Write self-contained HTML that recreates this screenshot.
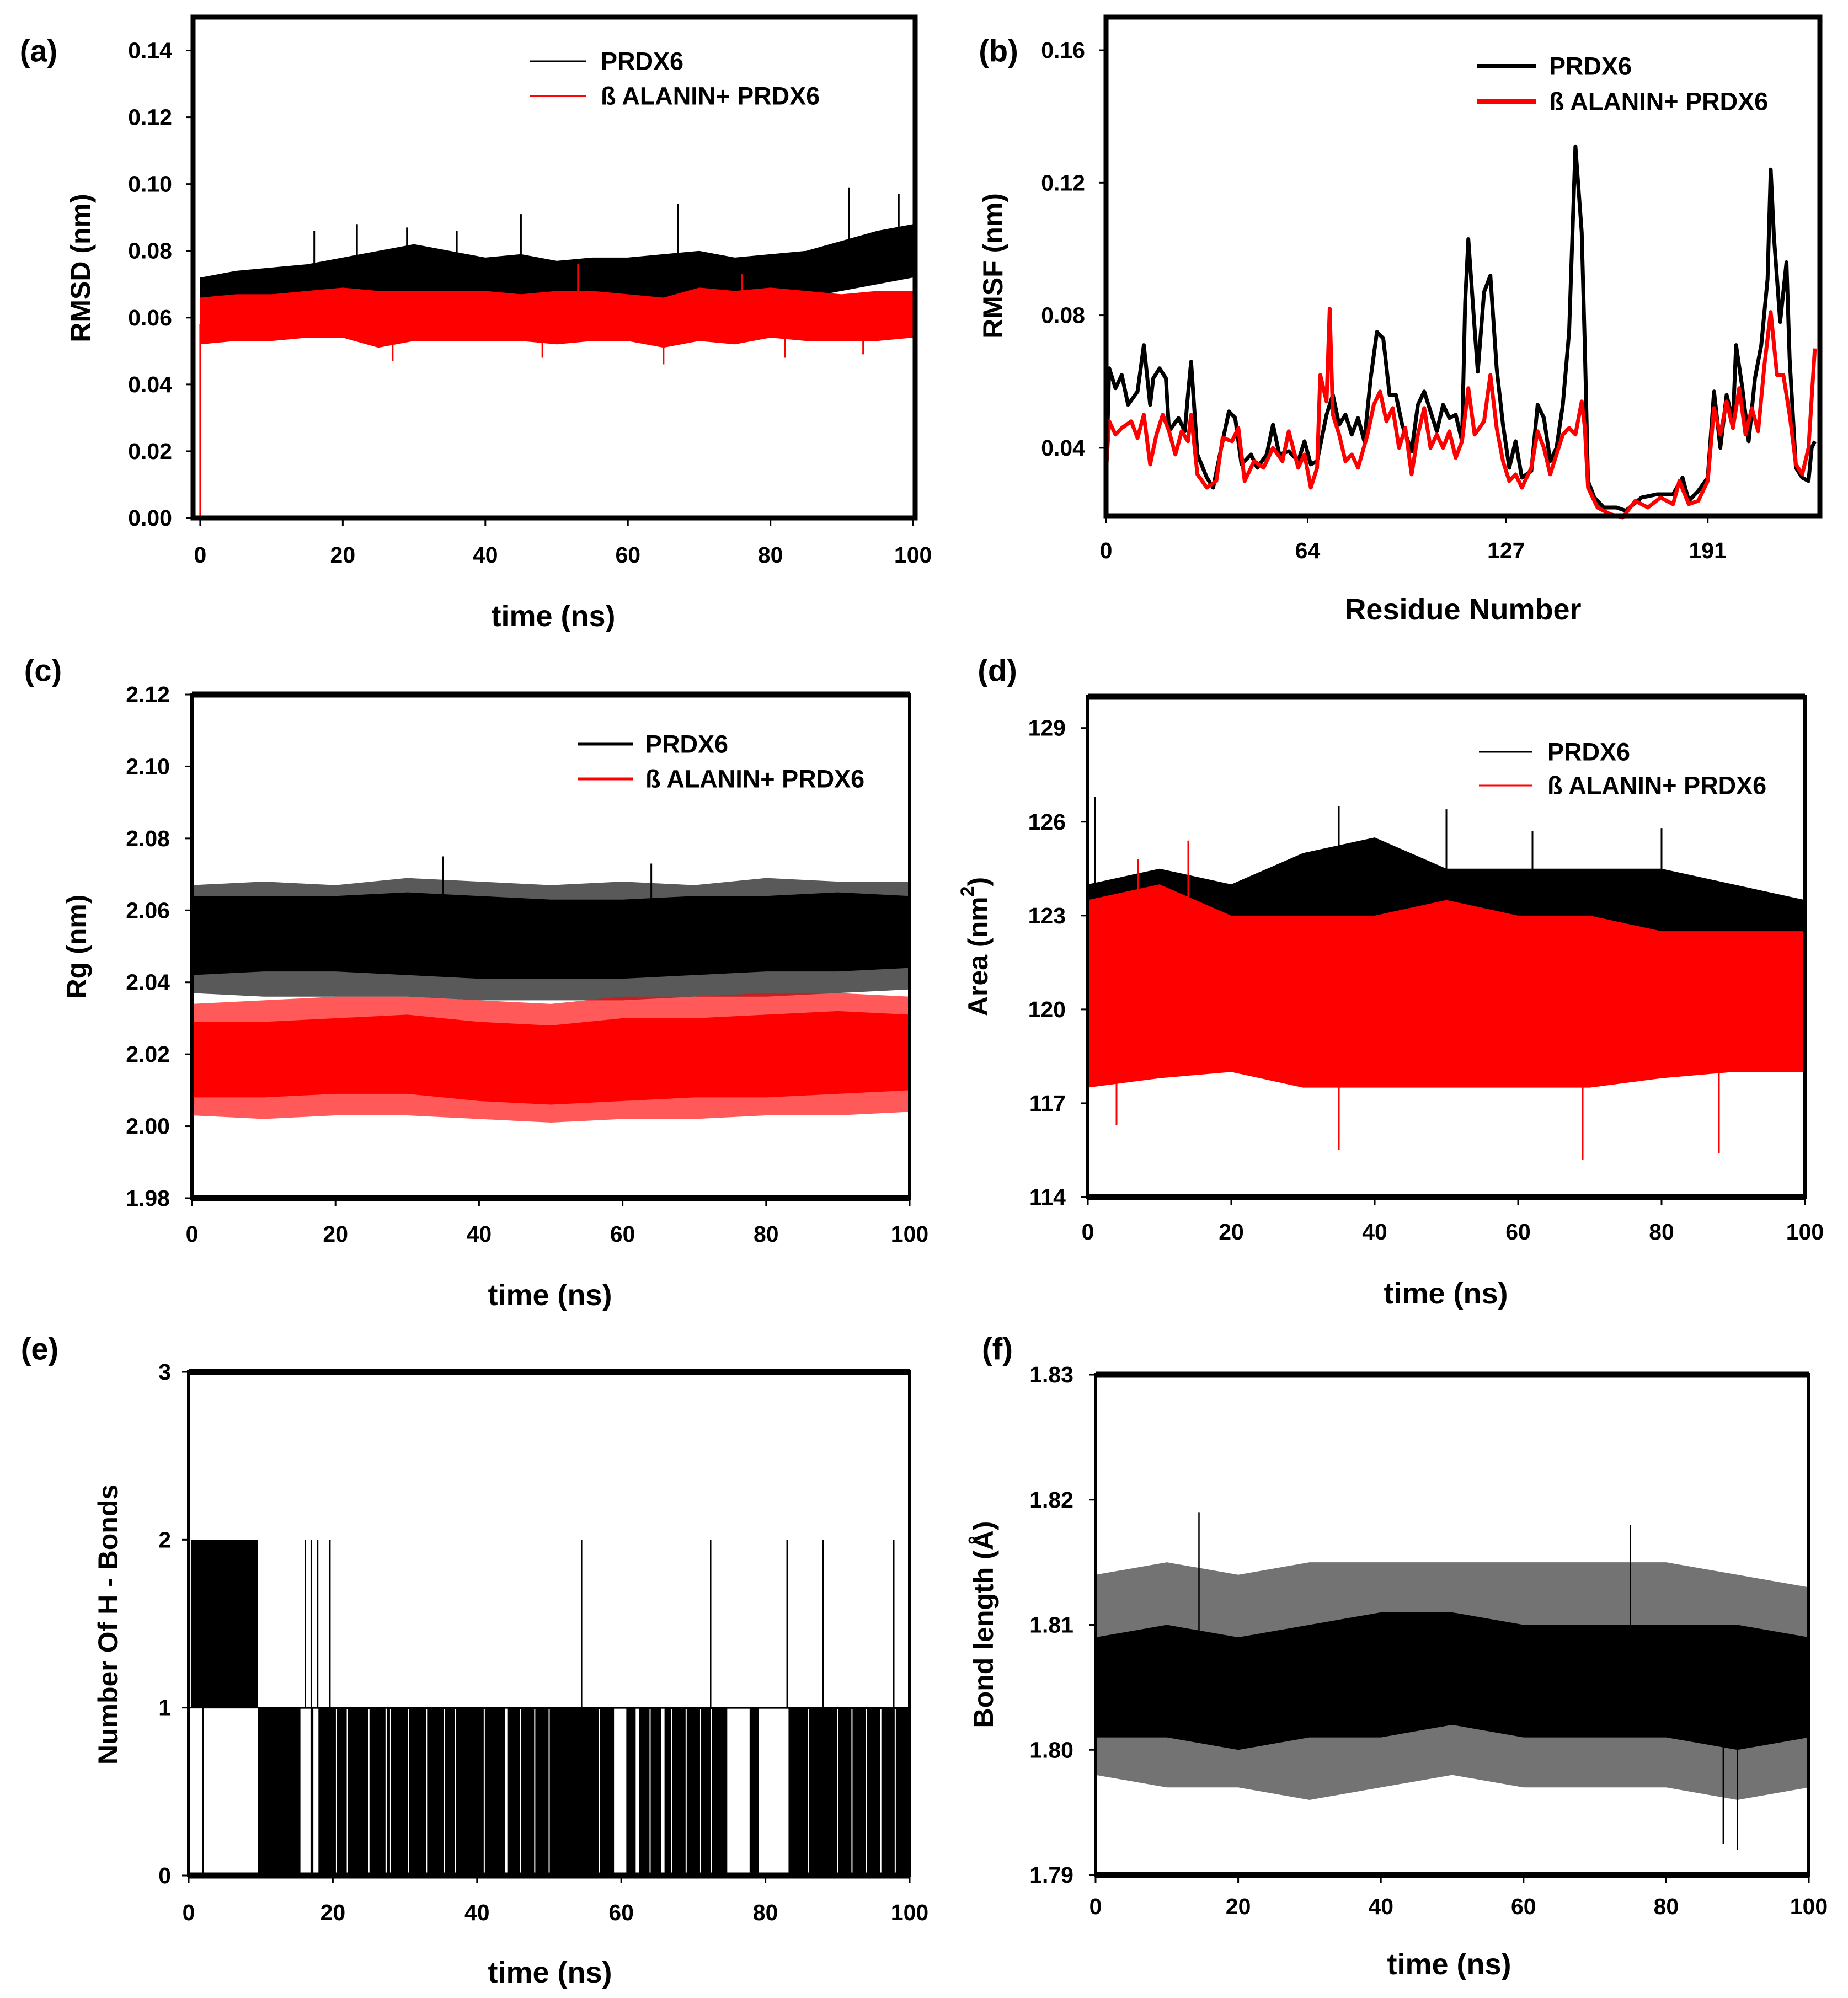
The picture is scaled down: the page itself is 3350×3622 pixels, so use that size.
<!DOCTYPE html>
<html>
<head>
<meta charset="utf-8">
<style>
html,body{margin:0;padding:0;background:#fff;}
svg{display:block;}
text{font-family:"Liberation Sans",Arial,sans-serif;font-weight:bold;fill:#000;}
</style>
</head>
<body>
<svg id="fig" xmlns="http://www.w3.org/2000/svg" width="3350" height="3622" viewBox="0 0 3350 3622"></svg>
<script>
// ---------- DATA ----------
// (a) RMSD, sampled every 5 ns
const rmsdTimes = [0,5,10,15,20,25,30,35,40,45,50,55,60,65,70,75,80,85,90,95,100];
const rmsdBlackHi = [0.072,0.074,0.075,0.076,0.078,0.080,0.082,0.080,0.078,0.079,0.077,0.078,0.078,0.079,0.080,0.078,0.079,0.080,0.083,0.086,0.088];
const rmsdBlackLo = [0.060,0.062,0.062,0.063,0.063,0.066,0.066,0.065,0.065,0.065,0.064,0.065,0.065,0.063,0.064,0.065,0.066,0.066,0.068,0.070,0.072];
const rmsdRedHi = [0.066,0.067,0.067,0.068,0.069,0.068,0.068,0.068,0.068,0.067,0.068,0.068,0.067,0.066,0.069,0.068,0.069,0.068,0.067,0.068,0.068];
const rmsdRedLo = [0.052,0.053,0.053,0.054,0.054,0.051,0.053,0.053,0.053,0.053,0.052,0.053,0.053,0.051,0.053,0.052,0.054,0.053,0.053,0.053,0.054];
const rmsdBlackSpikeT = [16,22,29,36,45,67,91,98];
const rmsdBlackSpikeV = [0.086,0.088,0.087,0.086,0.091,0.094,0.099,0.097];
const rmsdRedSpikeT = [27,48,53,65,76,82,93];
const rmsdRedSpikeV = [0.047,0.048,0.076,0.046,0.073,0.048,0.049];

// (b) RMSF per residue
const rmsfBlackRes = [0,1,3,5,7,10,12,14,15,17,19,20,23,25,26,27,29,32,34,37,39,41,43,46,48,51,53,55,58,61,63,65,67,70,72,74,76,78,80,82,84,86,88,90,92,94,97,99,101,103,105,107,109,111,113,114,115,117,118,120,122,124,126,128,130,132,135,137,139,141,143,145,147,149,150,151,152,153,155,158,162,165,170,175,180,183,185,188,191,193,195,197,199,200,202,204,206,208,210,211,212,214,216,217,219,221,223,224,225];
const rmsfBlackVal = [0.029,0.064,0.058,0.062,0.053,0.057,0.071,0.053,0.061,0.064,0.061,0.045,0.049,0.045,0.056,0.066,0.038,0.031,0.028,0.042,0.051,0.049,0.035,0.038,0.034,0.038,0.047,0.038,0.039,0.036,0.042,0.035,0.036,0.050,0.056,0.047,0.050,0.044,0.049,0.042,0.061,0.075,0.073,0.056,0.056,0.047,0.039,0.053,0.057,0.051,0.045,0.053,0.049,0.050,0.042,0.084,0.103,0.076,0.063,0.087,0.092,0.064,0.047,0.034,0.042,0.031,0.033,0.053,0.049,0.036,0.040,0.053,0.075,0.131,0.118,0.105,0.070,0.030,0.025,0.022,0.022,0.021,0.025,0.026,0.026,0.031,0.024,0.027,0.031,0.057,0.040,0.056,0.048,0.071,0.058,0.042,0.061,0.071,0.091,0.124,0.104,0.078,0.096,0.067,0.034,0.031,0.030,0.040,0.042];
const rmsfRedRes = [0,1,3,5,8,10,12,14,16,18,20,22,24,26,27,29,32,35,37,40,42,44,47,50,53,56,58,61,63,65,67,68,70,71,72,74,76,78,80,83,85,87,89,91,93,95,97,99,101,103,105,107,109,111,113,115,117,120,122,124,126,128,130,132,135,137,139,141,143,145,147,149,151,152,153,156,160,164,168,172,176,180,182,185,188,191,193,195,197,199,201,203,205,207,209,211,213,215,217,219,221,223,225];
const rmsfRedVal = [0.033,0.048,0.044,0.046,0.048,0.043,0.050,0.035,0.044,0.050,0.045,0.038,0.045,0.042,0.050,0.032,0.028,0.030,0.043,0.042,0.046,0.030,0.036,0.034,0.040,0.036,0.045,0.034,0.038,0.028,0.034,0.062,0.054,0.082,0.050,0.044,0.036,0.038,0.034,0.044,0.053,0.057,0.048,0.052,0.040,0.046,0.032,0.044,0.052,0.040,0.044,0.040,0.045,0.037,0.042,0.058,0.044,0.048,0.062,0.046,0.036,0.030,0.032,0.028,0.034,0.045,0.040,0.032,0.038,0.044,0.046,0.044,0.054,0.046,0.028,0.022,0.020,0.019,0.024,0.022,0.025,0.023,0.030,0.023,0.024,0.030,0.052,0.044,0.054,0.046,0.058,0.044,0.052,0.045,0.065,0.081,0.062,0.062,0.050,0.035,0.032,0.040,0.070];

// (c) Rg, every 10 ns
const rgTimes = [0,10,20,30,40,50,60,70,80,90,100];
const rgBlackHi = [2.064,2.064,2.064,2.065,2.064,2.063,2.063,2.064,2.064,2.065,2.064];
const rgBlackLo = [2.042,2.043,2.043,2.042,2.041,2.041,2.041,2.042,2.043,2.043,2.044];
const rgBlackMax = [2.067,2.068,2.067,2.069,2.068,2.067,2.068,2.067,2.069,2.068,2.068];
const rgBlackMin = [2.037,2.036,2.036,2.036,2.035,2.035,2.035,2.036,2.036,2.037,2.038];
const rgRedHi = [2.029,2.029,2.030,2.031,2.029,2.028,2.030,2.030,2.031,2.032,2.031];
const rgRedLo = [2.008,2.008,2.009,2.009,2.007,2.006,2.007,2.008,2.008,2.009,2.010];
const rgRedMax = [2.034,2.035,2.036,2.036,2.035,2.034,2.036,2.036,2.037,2.037,2.036];
const rgRedMin = [2.003,2.002,2.003,2.003,2.002,2.001,2.002,2.002,2.003,2.003,2.004];
const rgBlackSpikeT = [35,64];
const rgBlackSpikeV = [2.075,2.073];

// (d) SASA area, every 10 ns
const sasaTimes = [0,10,20,30,40,50,60,70,80,90,100];
const sasaBlackHi = [124.0,124.5,124.0,125.0,125.5,124.5,124.5,124.5,124.5,124.0,123.5];
const sasaBlackLo = [118.0,118.2,118.5,118.0,118.2,118.3,118.0,118.2,118.5,118.5,118.5];
const sasaRedHi = [123.5,124.0,123.0,123.0,123.0,123.5,123.0,123.0,122.5,122.5,122.5];
const sasaRedLo = [117.5,117.8,118.0,117.5,117.5,117.5,117.5,117.5,117.8,118.0,118.0];
const sasaBlackSpikeT = [1,35,50,62,80];
const sasaBlackSpikeV = [126.8,126.5,126.4,125.7,125.8];
const sasaRedSpikeT = [4,7,14,35,69,88];
const sasaRedSpikeV = [116.3,124.8,125.4,115.5,115.2,115.4];

// (e) H-bonds
const hb2Spans = [[0.3,9.6]];
const hb1Spans = [[9.6,100]];
const hbGapSpans = [[15.5,16.9],[17.3,18.0],[27.3,27.5],[43.9,44.2],[59.0,60.7],[62.0,62.5],[65.5,66.0],[74.7,77.8],[79.1,83.2]];
const hbWhiteLines = [20.5,22,25,28,30.5,33,35.5,37,41,46,48,50,57,64,67,69,71,72.5,86,90,92,94,96,98];
const hbSpike2T = [2.0,16.2,17.0,17.9,19.6,54.5,72.4,83.0,88.0,97.8];

// (f) bond length, every 10 ns
const blTimes = [0,10,20,30,40,50,60,70,80,90,100];
const blHi = [1.809,1.810,1.809,1.810,1.811,1.811,1.810,1.810,1.810,1.810,1.809];
const blLo = [1.801,1.801,1.800,1.801,1.801,1.802,1.801,1.801,1.801,1.800,1.801];
const blMax = [1.814,1.815,1.814,1.815,1.815,1.815,1.815,1.815,1.815,1.814,1.813];
const blMin = [1.798,1.797,1.797,1.796,1.797,1.798,1.797,1.797,1.797,1.796,1.797];
const blSpikeT = [14.5,75,88,90];
const blSpikeV = [1.819,1.818,1.7925,1.792];

// ---------- HELPERS ----------
const NS = 'http://www.w3.org/2000/svg';
const svg = document.getElementById('fig');
function mk(tag, attrs, parent){
  const el = document.createElementNS(NS, tag);
  for (const k in attrs) el.setAttribute(k, attrs[k]);
  (parent || svg).appendChild(el);
  return el;
}
function txt(x, y, s, size, anchor, name, parent, rot){
  const el = mk('text', {x:x, y:y, 'font-size':size, 'text-anchor':anchor||'middle', 'dominant-baseline':'central'}, parent);
  if (rot) el.setAttribute('transform', 'rotate(' + rot + ' ' + x + ' ' + y + ')');
  el.textContent = s;
  
  
  return el;
}
function scales(p){
  return {
    x: v => p.L + (v - p.x0) / (p.x1 - p.x0) * (p.R - p.L),
    y: v => p.B - (v - p.y0) / (p.y1 - p.y0) * (p.B - p.T)
  };
}
function band(p, g, ts, hi, lo, color, op, name){
  const s = scales(p);
  let pts = [];
  for (let i = 0; i < ts.length; i++) pts.push(s.x(ts[i]) + ',' + s.y(hi[i]));
  for (let i = ts.length - 1; i >= 0; i--) pts.push(s.x(ts[i]) + ',' + s.y(lo[i]));
  const el = mk('polygon', {points: pts.join(' '), fill: color, 'fill-opacity': op}, g);
  
  
}
function spikes(p, g, ts, vs, base, color, w, name){
  const s = scales(p);
  for (let i = 0; i < ts.length; i++){
    const el = mk('line', {x1:s.x(ts[i]), x2:s.x(ts[i]), y1:s.y(base), y2:s.y(vs[i]), stroke:color, 'stroke-width':w}, g);
    
    
  }
}
function line(p, g, xs, vs, color, w, name){
  const s = scales(p);
  const pts = xs.map((x, i) => s.x(x) + ',' + s.y(vs[i])).join(' ');
  const el = mk('polyline', {points: pts, fill:'none', stroke:color, 'stroke-width':w, 'stroke-linejoin':'round'}, g);
  
  
}
function axes(p, g){
  const s = scales(p);
  p.yt.forEach(v => {
    const t = mk('line', {x1:p.L - 12, x2:p.L, y1:s.y(v), y2:s.y(v), stroke:'#000', 'stroke-width':3}, g);
    
    
    txt(p.L - p.ylOff, s.y(v), v.toFixed(p.yd), 41, 'end', 'y-tick-label', g);
  });
  p.xt.forEach(v => {
    const t = mk('line', {x1:s.x(v), x2:s.x(v), y1:p.B, y2:p.B + 14, stroke:'#000', 'stroke-width':3}, g);
    
    
    txt(s.x(v), p.xlY, String(v), 41, 'middle', 'x-tick-label', g);
  });
  const fr = mk('rect', {x:p.L, y:p.T, width:p.R - p.L, height:p.B - p.T, fill:'none', stroke:'#000', 'stroke-width':p.fw}, g);
  
  
  if (p.tb){
    const t1 = mk('line', {x1:p.L, x2:p.R, y1:p.T, y2:p.T, stroke:'#000', 'stroke-width':11}, g);
    
    
    const t2 = mk('line', {x1:p.L, x2:p.R, y1:p.B, y2:p.B, stroke:'#000', 'stroke-width':11}, g);
    
    
  }
  txt(p.panX, p.panY, p.panel, 56, 'middle', 'panel-label', g);
  txt(p.xtX, p.xtY, p.xtitle, 54, 'middle', 'x-axis-title', g);
  if (p.ytitle) txt(p.ytX, p.ytY, p.ytitle, 50, 'middle', 'y-axis-title', g, -90);
}
function legend(g, x1, x2, tx, y1, y2, w){
  const a = mk('line', {x1:x1, x2:x2, y1:y1, y2:y1, stroke:'#000', 'stroke-width':w}, g);
  
  
  txt(tx, y1, 'PRDX6', 45, 'start', 'legend-label-prdx6', g);
  const b = mk('line', {x1:x1, x2:x2, y1:y2, y2:y2, stroke:'#ff0000', 'stroke-width':w}, g);
  
  
  txt(tx, y2, 'ß ALANIN+ PRDX6', 45, 'start', 'legend-label-balanin', g);
}
function panelGroup(name){
  const g = mk('g', {});
  
  
  return g;
}

// ---------- PANELS ----------
const PA = {L:350,R:1659,T:31,B:939,x0:-1.0,x1:100.3,y0:0,y1:0.15,yt:[0,0.02,0.04,0.06,0.08,0.10,0.12,0.14],yd:2,xt:[0,20,40,60,80,100],
  ylOff:38,xlY:1006,fw:9,tb:false,panel:'(a)',panX:70,panY:92,xtitle:'time (ns)',xtX:1003,xtY:1117,ytitle:'RMSD (nm)',ytX:146,ytY:486};
const PB = {L:2005,R:3299,T:31,B:935,x0:0,x1:226.6,y0:0.0195,y1:0.170,yt:[0.04,0.08,0.12,0.16],yd:2,xt:[0,64,127,191],
  ylOff:38,xlY:998,fw:9,tb:false,panel:'(b)',panX:1810,panY:92,xtitle:'Residue Number',xtX:2652,xtY:1105,ytitle:'RMSF (nm)',ytX:1800,ytY:482};
const PC = {L:348,R:1649,T:1259,B:2172,x0:0,x1:100,y0:1.98,y1:2.12,yt:[1.98,2.00,2.02,2.04,2.06,2.08,2.10,2.12],yd:2,xt:[0,20,40,60,80,100],
  ylOff:40,xlY:2237,fw:6,tb:true,panel:'(c)',panX:78,panY:1215,xtitle:'time (ns)',xtX:997,xtY:2348,ytitle:'Rg (nm)',ytX:139,ytY:1716};
const PD = {L:1972,R:3272,T:1263,B:2170,x0:0,x1:100,y0:114,y1:130,yt:[114,117,120,123,126,129],yd:0,xt:[0,20,40,60,80,100],
  ylOff:40,xlY:2233,fw:6,tb:true,panel:'(d)',panX:1808,panY:1215,xtitle:'time (ns)',xtX:2621,xtY:2345,ytitle:'',ytX:1773,ytY:1716};
const PE = {L:342,R:1649,T:2487,B:3400,x0:0,x1:100,y0:0,y1:3,yt:[0,1,2,3],yd:0,xt:[0,20,40,60,80,100],
  ylOff:32,xlY:3467,fw:6,tb:true,panel:'(e)',panX:72,panY:2445,xtitle:'time (ns)',xtX:997,xtY:3576,ytitle:'Number Of  H - Bonds',ytX:196,ytY:2945};
const PF = {L:1986,R:3279,T:2492,B:3399,x0:0,x1:100,y0:1.79,y1:1.83,yt:[1.79,1.80,1.81,1.82,1.83],yd:2,xt:[0,20,40,60,80,100],
  ylOff:40,xlY:3456,fw:6,tb:true,panel:'(f)',panX:1808,panY:2445,xtitle:'time (ns)',xtX:2627,xtY:3561,ytitle:'Bond length (Å)',ytX:1783,ytY:2945};

// (a)
let g = panelGroup('panel-a-rmsd');
band(PA, g, rmsdTimes, rmsdBlackHi, rmsdBlackLo, '#000', 1, 'rmsd-prdx6-band');
spikes(PA, g, rmsdBlackSpikeT, rmsdBlackSpikeV, 0.072, '#000', 3, 'rmsd-prdx6-spike');
band(PA, g, rmsdTimes, rmsdRedHi, rmsdRedLo, '#ff0000', 1, 'rmsd-balanin-band');
spikes(PA, g, rmsdRedSpikeT, rmsdRedSpikeV, 0.060, '#ff0000', 3, 'rmsd-balanin-spike');
spikes(PA, g, [0], [0], 0.058, '#ff0000', 3, 'rmsd-balanin-start');
axes(PA, g);
legend(g, 960, 1062, 1089, 111, 174, 3);

// (b)
g = panelGroup('panel-b-rmsf');
line(PB, g, rmsfBlackRes, rmsfBlackVal, '#000', 7, 'rmsf-prdx6-line');
line(PB, g, rmsfRedRes, rmsfRedVal, '#ff0000', 7, 'rmsf-balanin-line');
axes(PB, g);
legend(g, 2678, 2784, 2808, 120, 184, 8);

// (c)
g = panelGroup('panel-c-rg');
band(PC, g, rgTimes, rgBlackMax, rgBlackMin, '#000', 0.65, 'rg-prdx6-outer');
band(PC, g, rgTimes, rgBlackHi, rgBlackLo, '#000', 1, 'rg-prdx6-band');
spikes(PC, g, rgBlackSpikeT, rgBlackSpikeV, 2.055, '#000', 3, 'rg-prdx6-spike');
band(PC, g, rgTimes, rgRedMax, rgRedMin, '#ff0000', 0.65, 'rg-balanin-outer');
band(PC, g, rgTimes, rgRedHi, rgRedLo, '#ff0000', 1, 'rg-balanin-band');
axes(PC, g);
legend(g, 1047, 1147, 1170, 1349, 1412, 5);

// (d)
g = panelGroup('panel-d-sasa');
band(PD, g, sasaTimes, sasaBlackHi, sasaBlackLo, '#000', 1, 'sasa-prdx6-band');
spikes(PD, g, sasaBlackSpikeT, sasaBlackSpikeV, 121, '#000', 3, 'sasa-prdx6-spike');
band(PD, g, sasaTimes, sasaRedHi, sasaRedLo, '#ff0000', 1, 'sasa-balanin-band');
spikes(PD, g, sasaRedSpikeT, sasaRedSpikeV, 120, '#ff0000', 3, 'sasa-balanin-spike');
axes(PD, g);
(function(){
  const t = mk('text', {x:1773, y:1716, 'font-size':50, 'text-anchor':'middle', 'dominant-baseline':'central', transform:'rotate(-90 1773 1716)'}, g);
  
  
  t.appendChild(document.createTextNode('Area (nm'));
  const sup = mk('tspan', {'baseline-shift':'super', 'font-size':34}, t);
  sup.textContent = '2';
  const cl = mk('tspan', {}, t);
  cl.textContent = ')';
})();
legend(g, 2681, 2777, 2805, 1363, 1424, 3);

// (e)
g = panelGroup('panel-e-hbonds');
(function(){
  const s = scales(PE);
  hb2Spans.forEach(sp => {
    const r = mk('rect', {x:s.x(sp[0]), y:s.y(2), width:s.x(sp[1]) - s.x(sp[0]), height:s.y(1) - s.y(2), fill:'#000'}, g);
    
    
  });
  hb1Spans.forEach(sp => {
    const r = mk('rect', {x:s.x(sp[0]), y:s.y(1), width:s.x(sp[1]) - s.x(sp[0]), height:s.y(0) - s.y(1), fill:'#000'}, g);
    
    
  });
  hbGapSpans.forEach(sp => {
    const r = mk('rect', {x:s.x(sp[0]), y:s.y(1) + 2, width:s.x(sp[1]) - s.x(sp[0]), height:s.y(0) - s.y(1) - 6, fill:'#fff'}, g);
    
    
  });
  hbWhiteLines.forEach(t => {
    const l = mk('line', {x1:s.x(t), x2:s.x(t), y1:s.y(1) + 3, y2:s.y(0) - 5, stroke:'#fff', 'stroke-width':2}, g);
    
    
  });
  hbSpike2T.forEach(t => {
    const l = mk('line', {x1:s.x(t), x2:s.x(t), y1:s.y(2), y2:s.y(t < 9.6 ? 0 : 1), stroke:'#000', 'stroke-width':2.5}, g);
    
    
  });
  const h = mk('line', {x1:s.x(0), x2:s.x(100), y1:s.y(1), y2:s.y(1), stroke:'#000', 'stroke-width':3}, g);
  
  
})();
axes(PE, g);

// (f)
g = panelGroup('panel-f-bond-length');
band(PF, g, blTimes, blMax, blMin, '#000', 0.55, 'bond-length-outer');
band(PF, g, blTimes, blHi, blLo, '#000', 1, 'bond-length-band');
spikes(PF, g, blSpikeT, blSpikeV, 1.805, '#000', 2.5, 'bond-length-spike');
axes(PF, g);
</script>
</body>
</html>
